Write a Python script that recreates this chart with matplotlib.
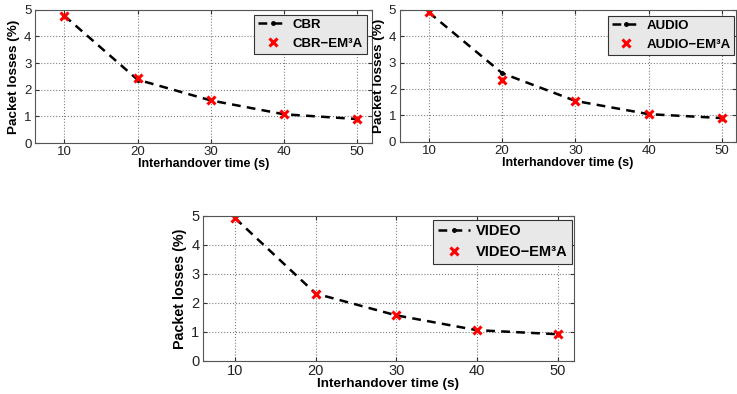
import matplotlib
matplotlib.use('Agg')
import matplotlib.pyplot as plt
import matplotlib.ticker as ticker

plt.rcParams['font.family'] = ['Liberation Sans', 'DejaVu Sans']

# interhandover time (s)
times = [10, 20, 30, 40, 50]

# packet losses (%)
cbr = [4.78, 2.38, 1.60, 1.08, 0.90]
cbr_em3a = [4.78, 2.44, 1.61, 1.08, 0.90]

audio = [4.90, 2.60, 1.55, 1.05, 0.90]
audio_em3a = [4.90, 2.35, 1.55, 1.05, 0.90]

video = [4.92, 2.32, 1.57, 1.06, 0.92]
video_em3a = [4.92, 2.32, 1.57, 1.06, 0.92]

panels = [
    ('CBR', cbr, cbr_em3a),
    ('AUDIO', audio, audio_em3a),
    ('VIDEO', video, video_em3a),
]

# axes rectangles in figure fractions
rects = [
    [0.0475, 0.637, 0.457, 0.338],
    [0.5423, 0.640, 0.457, 0.335],
    [0.2754, 0.084, 0.503, 0.368],
]
tick_fs = [9.5, 9.5, 10.5]
xlabel_fs = [9, 9, 9.7]
ylabel_fs = [9.7, 9.7, 10.3]
leg_fs = [9.5, 9.5, 10.5]
legend_locs = [(0.985, 0.962), (0.994, 0.955), (0.995, 0.973)]

fig = plt.figure(figsize=(7.37, 3.94), dpi=100)

for (name, line_vals, em_vals), rect, tfs, xfs, yfs, gfs, lloc in zip(
        panels, rects, tick_fs, xlabel_fs, ylabel_fs, leg_fs, legend_locs):
    ax = fig.add_axes(rect)
    ax.plot(times, line_vals, 'k--', marker='.', markersize=5, linewidth=1.8,
            dashes=(3.5, 2.5), label=name)
    ax.plot(times, em_vals, 'x', color='red', markersize=6, markeredgewidth=2.2,
            linestyle='none', label=name + '\u2212EM\u00b3A')

    ax.set_xlim(6, 52)
    ax.set_ylim(0, 5)
    ax.xaxis.set_major_locator(ticker.MultipleLocator(10))
    ax.yaxis.set_major_locator(ticker.MultipleLocator(1))
    ax.grid(True, linestyle=':', color='#808080', linewidth=0.8)
    ax.tick_params(direction='in', top=True, right=True, length=3, pad=2.5,
                   labelsize=tfs, colors='#333333', labelcolor='#222222')
    for sp in ax.spines.values():
        sp.set_color('#555555')
        sp.set_linewidth(0.8)

    ax.set_xlabel('Interhandover time (s)', fontsize=xfs, fontweight='bold', labelpad=0)
    ax.set_ylabel('Packet losses (%)', fontsize=yfs, fontweight='bold', labelpad=3)

    leg = ax.legend(loc='upper right', bbox_to_anchor=lloc, numpoints=1,
                    borderaxespad=0, fancybox=False, framealpha=1,
                    facecolor='#e8e8e8', edgecolor='#333333',
                    prop={'weight': 'bold', 'size': gfs},
                    handlelength=2.2, handletextpad=0.4, borderpad=0.3,
                    labelspacing=0.5)
    leg.get_frame().set_linewidth(0.8)

fig.savefig('out.png', dpi=100)
